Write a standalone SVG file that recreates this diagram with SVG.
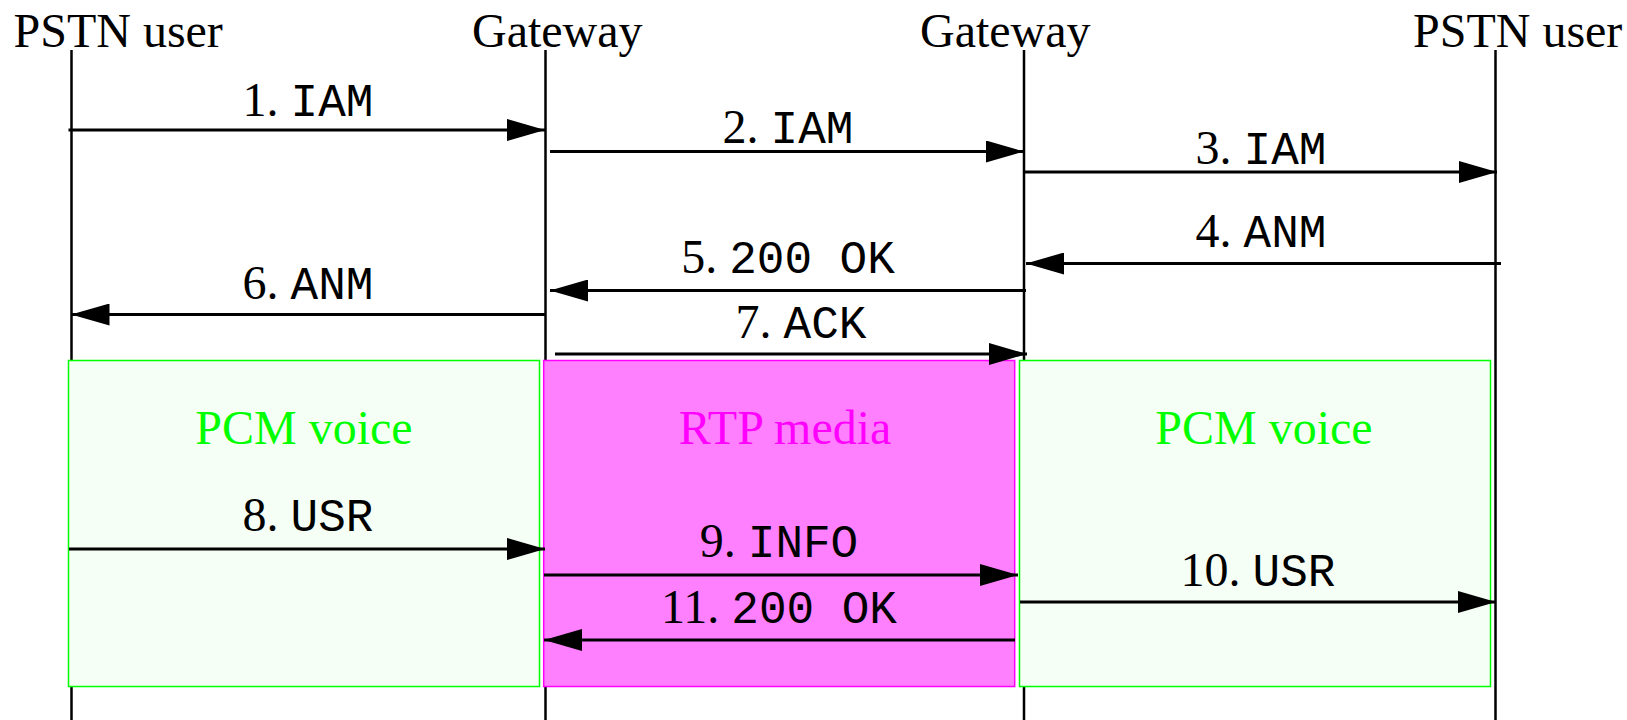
<svg xmlns="http://www.w3.org/2000/svg" width="1627" height="720" viewBox="0 0 1627 720">
<style>
.hdr{font-family:"Liberation Serif","Times New Roman",serif;font-size:48px;fill:#000}
.lbl{font-family:"Liberation Serif","Times New Roman",serif;font-size:48px;fill:#000;text-anchor:middle}
.mono{font-family:"Liberation Mono","Courier New",monospace;font-size:46px}
.life{stroke:#000;stroke-width:2.5;fill:none}
.msg{stroke:#000;stroke-width:3;fill:none;marker-end:url(#ah)}
.pcm{fill:#f5fff5;stroke:#00ff00;stroke-width:1.5}
.rtp{fill:#ff80ff;stroke:#ff00ff;stroke-width:1.5}
.pcmt{font-family:"Liberation Serif","Times New Roman",serif;font-size:48px;fill:#00ff00;text-anchor:middle}
.rtpt{font-family:"Liberation Serif","Times New Roman",serif;font-size:48px;fill:#ff00ff;text-anchor:middle}
</style>
<defs>
<marker id="ah" markerUnits="userSpaceOnUse" viewBox="0 0 38 22" refX="38" refY="11" markerWidth="38" markerHeight="22" orient="auto">
<path d="M0,0 L38,11 L0,22 Z" fill="#000"/>
</marker>
</defs>
<rect width="1627" height="720" fill="#fff"/>
<g id="node-pstn1">
<text class="hdr" x="13.5" y="47">PSTN user</text>
<line class="life" x1="71.5" y1="50" x2="71.5" y2="720"/>
</g>
<g id="node-gw1">
<text class="hdr" x="472" y="47">Gateway</text>
<line class="life" x1="545.5" y1="50" x2="545.5" y2="720"/>
</g>
<g id="node-gw2">
<text class="hdr" x="920" y="47">Gateway</text>
<line class="life" x1="1024" y1="50" x2="1024" y2="720"/>
</g>
<g id="node-pstn2">
<text class="hdr" x="1413" y="47">PSTN user</text>
<line class="life" x1="1495.5" y1="50" x2="1495.5" y2="720"/>
</g>
<g id="node-pcm1">
<rect class="pcm" x="68.5" y="360.5" width="471" height="326"/>
<text class="pcmt" x="304" y="444">PCM voice</text>
</g>
<g id="node-rtp">
<rect class="rtp" x="543.7" y="360.5" width="471" height="326"/>
<text class="rtpt" x="785" y="444">RTP media</text>
</g>
<g id="node-pcm2">
<rect class="pcm" x="1019.5" y="360.5" width="471" height="326"/>
<text class="pcmt" x="1264" y="444">PCM voice</text>
</g>
<g id="connectors">
<line class="msg" x1="68.5" y1="130" x2="545" y2="130"/>
<line class="msg" x1="550" y1="151.5" x2="1024" y2="151.5"/>
<line class="msg" x1="1024" y1="172" x2="1497" y2="172"/>
<line class="msg" x1="1501" y1="263.5" x2="1026" y2="263.5"/>
<line class="msg" x1="1026" y1="290.5" x2="550" y2="290.5"/>
<line class="msg" x1="546" y1="314.5" x2="71.5" y2="314.5"/>
<line class="msg" x1="555" y1="354" x2="1027" y2="354"/>
<line class="msg" x1="69" y1="549" x2="545" y2="549"/>
<line class="msg" x1="544" y1="575" x2="1018" y2="575"/>
<line class="msg" x1="1020" y1="602" x2="1496" y2="602"/>
<line class="msg" x1="1015" y1="640" x2="544" y2="640"/>
</g>
<g id="labels">
<text class="lbl" x="308" y="116">1. <tspan class="mono">IAM</tspan></text>
<text class="lbl" x="788" y="143">2. <tspan class="mono">IAM</tspan></text>
<text class="lbl" x="1261" y="164">3. <tspan class="mono">IAM</tspan></text>
<text class="lbl" x="1261" y="247">4. <tspan class="mono">ANM</tspan></text>
<text class="lbl" x="788" y="273">5. <tspan class="mono">200 OK</tspan></text>
<text class="lbl" x="308" y="299">6. <tspan class="mono">ANM</tspan></text>
<text class="lbl" x="801" y="338">7. <tspan class="mono">ACK</tspan></text>
<text class="lbl" x="308" y="531">8. <tspan class="mono">USR</tspan></text>
<text class="lbl" x="779" y="557">9. <tspan class="mono">INFO</tspan></text>
<text class="lbl" x="1258" y="586">10. <tspan class="mono">USR</tspan></text>
<text class="lbl" x="779" y="623">11. <tspan class="mono">200 OK</tspan></text>
</g>
</svg>
